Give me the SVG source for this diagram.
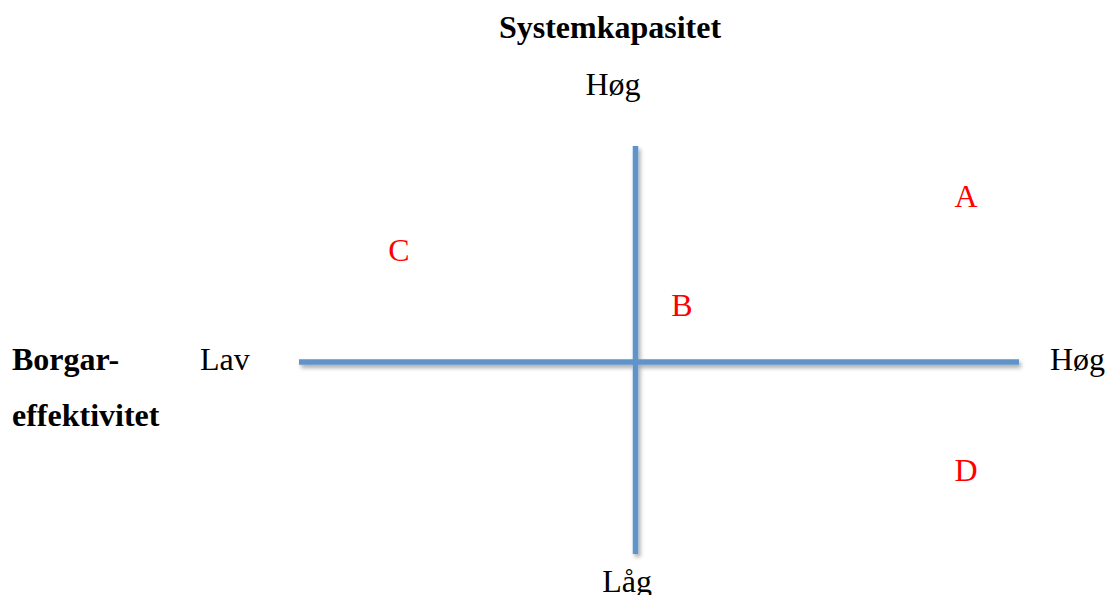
<svg xmlns="http://www.w3.org/2000/svg" width="1108" height="595" viewBox="0 0 1108 595">
<style>
.t{font-family:"Liberation Serif","Times New Roman",serif;font-size:32px;fill:#000}
.b{font-weight:bold}
.r{fill:#ff0000}
.ax{stroke:#5f93c9;stroke-width:5.5;fill:none}
</style>
<defs>
<filter id="sh" x="-10%" y="-10%" width="120%" height="120%">
<feGaussianBlur in="SourceAlpha" stdDeviation="2"/>
<feOffset dx="2" dy="3" result="o"/>
<feComponentTransfer><feFuncA type="linear" slope="0.35"/></feComponentTransfer>
<feMerge><feMergeNode/><feMergeNode in="SourceGraphic"/></feMerge>
</filter>
</defs>
<rect width="1108" height="595" fill="#fff"/>
<g id="connectors" filter="url(#sh)">
<line class="ax" x1="299" y1="362" x2="1019" y2="362"/>
<line class="ax" x1="635.5" y1="146" x2="635.5" y2="554"/>
</g>
<g id="title-y"><text class="t b" x="610" y="38" text-anchor="middle">Systemkapasitet</text></g>
<g id="y-high"><text class="t" x="613" y="95" text-anchor="middle">Høg</text></g>
<g id="y-low"><text class="t" x="627" y="592" text-anchor="middle">Låg</text></g>
<g id="title-x"><text class="t b" x="12" y="370">Borgar-</text><text class="t b" x="12" y="426">effektivitet</text></g>
<g id="x-low"><text class="t" x="200" y="370">Lav</text></g>
<g id="x-high"><text class="t" x="1050" y="370">Høg</text></g>
<g id="A"><text class="t r" x="966" y="207" text-anchor="middle">A</text></g>
<g id="B"><text class="t r" x="682" y="316" text-anchor="middle">B</text></g>
<g id="C"><text class="t r" x="399" y="261" text-anchor="middle">C</text></g>
<g id="D"><text class="t r" x="966" y="481" text-anchor="middle">D</text></g>
</svg>
